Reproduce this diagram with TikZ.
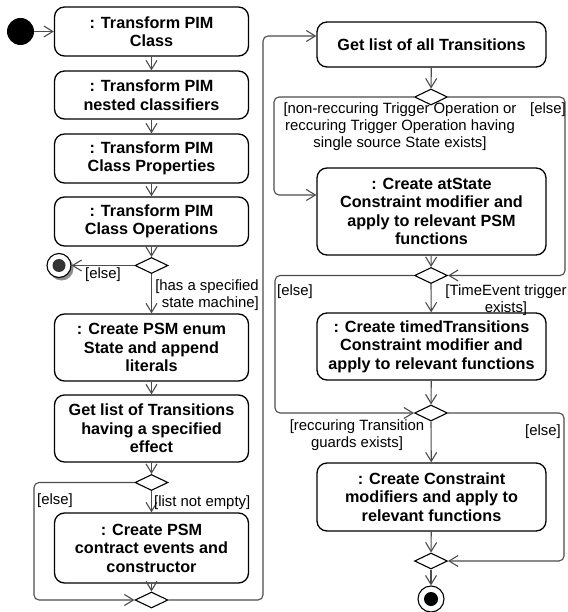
\documentclass[tikz,border=0pt]{standalone}
\usepackage{fontspec}
\setmainfont{Liberation Sans}
\usetikzlibrary{arrows.meta,shapes.geometric,calc}

\begin{document}
\begin{tikzpicture}[x=1pt,y=-1pt,
  action/.style={draw=black,line width=1.3pt,rounded corners=10pt,align=center,
    font=\bfseries\fontsize{16.2}{18.5}\selectfont,inner sep=0pt},
  lbox/.style={action,minimum width=194pt},
  rbox/.style={action,minimum width=229pt},
  decision/.style={draw=black,diamond,line width=1.1pt,minimum width=33pt,
    minimum height=16pt,inner sep=0pt,aspect=2},
  flow/.style={draw=black!70,line width=1.1pt,rounded corners=5pt,
    -{Straight Barb[length=9pt,width=11pt]}},
  guard/.style={font=\fontsize{14.9}{17}\selectfont,inner sep=0pt},
]
\useasboundingbox (0,0) rectangle (567,612);

% ---- left column: actions
\node[lbox,minimum height=49pt] (b1) at (151.5,31.5) {: Transform PIM\\Class};
\node[lbox,minimum height=48pt] (b2) at (151.5,95) {: Transform PIM\\nested classifiers};
\node[lbox,minimum height=49pt] (b3) at (151.5,158.5) {: Transform PIM\\Class Properties};
\node[lbox,minimum height=49pt] (b4) at (151.5,221.5) {: Transform PIM\\Class Operations};
\node[lbox,minimum height=67pt] (b5) at (151.5,347.5) {: Create PSM enum\\State and append\\literals};
\node[lbox,minimum height=67pt] (b6) at (151.5,428.5) {Get list of Transitions\\having a specified\\effect};
\node[lbox,minimum height=70pt] (b7) at (151.5,548) {: Create PSM\\contract events and\\constructor};

% ---- right column: actions
\node[rbox,minimum height=45pt] (r1) at (431.5,44.5) {Get list of all Transitions};
\node[rbox,minimum height=87pt] (r2) at (431.5,211.5) {: Create atState\\Constraint modifier and\\apply to relevant PSM\\functions};
\node[rbox,minimum height=67pt] (r3) at (431.5,346.5) {: Create timedTransitions\\Constraint modifier and\\apply to relevant functions};
\node[rbox,minimum height=68pt] (r4) at (431.5,497) {: Create Constraint\\modifiers and apply to\\relevant functions};

% ---- decision / merge nodes
\node[decision] (d1) at (151.5,265.5) {};
\node[decision] (d2) at (151.5,482.5) {};
\node[decision] (d3) at (151.5,600) {};
\node[decision] (dr1) at (431,97) {};
\node[decision] (dr2) at (431,275.5) {};
\node[decision] (dr3) at (431,413) {};
\node[decision] (dr4) at (431,561) {};

% ---- initial and final nodes
\node[circle,fill=black,minimum size=27pt,inner sep=0pt] (init) at (20.5,31.5) {};
\fill[black!45] (61.5,268.5) circle (12pt);
\node[circle,draw=black,fill=white,line width=1.1pt,minimum size=24pt,inner sep=0pt] (fin1) at (59,265.5) {};
\fill[black!80] (fin1.center) circle (6.5pt);
\node[circle,draw=black,fill=white,line width=1.1pt,minimum size=26pt,inner sep=0pt] (fin2) at (431,599) {};
\fill[black] (fin2.center) circle (7pt);

% ---- bend points of the loops
\coordinate (lp) at (34,540);
\coordinate (up) at (263,36);
\coordinate (a1) at (274,195);
\coordinate (a2) at (565,180);
\coordinate (a3) at (275,340);
\coordinate (a4) at (564,490);

% ---- control flows
\draw[flow] (init) -- (b1);
\draw[flow] (b1) -- (b2);
\draw[flow] (b2) -- (b3);
\draw[flow] (b3) -- (b4);
\draw[flow] (b4) -- (d1);
\draw[flow] (d1.west) -- (fin1);
\draw[flow] (d1.south) -- (b5);
\draw[flow] (b5) -- (b6);
\draw[flow] (b6) -- (d2);
\draw[flow] (d2.south) -- (b7);
\draw[flow] (d2.west) -| (lp) |- (d3.west);
\draw[flow] (b7) -- (d3);
\draw[flow] (d3.east) -| (up) -- (up -| r1.west);

\draw[flow] (r1) -- (dr1);
\draw[flow] (dr1.west) -| (a1) -- (a1 -| r2.west);
\draw[flow] (dr1.east) -| (a2) |- (dr2.east);
\draw[flow] (r2) -- (dr2);
\draw[flow] (dr2.south) -- (r3);
\draw[flow] (dr2.west) -| (a3) |- (dr3.west);
\draw[flow] (r3) -- (dr3);
\draw[flow] (dr3.south) -- (r4);
\draw[flow] (dr3.east) -| (a4) |- (dr4.east);
\draw[flow] (r4) -- (dr4);
\draw[flow] (dr4.south) -- (fin2);

% ---- guards
\node[guard,anchor=west] (g1) at (85,275) {[else]};
\node[guard,align=right,anchor=east] (g2) at (259,295.5) {[has a specified\\state machine]};
\node[guard,anchor=west] (g3) at (37,501) {[else]};
\node[guard,anchor=west] (g4) at (154,503) {[list not empty]};
\node[guard,align=center] (g5) at (400,127) {[non-reccuring Trigger Operation or\\reccuring Trigger Operation having\\single source State exists]};
\node[guard,anchor=east] (g6) at (566,110) {[else]};
\node[guard,anchor=west] (g7) at (277,292) {[else]};
\node[guard,align=center] (g8) at (506,300) {[TimeEvent trigger\\exists]};
\node[guard,align=center] (g9) at (357,435.5) {[reccuring Transition\\guards exists]};
\node[guard,anchor=east] (g10) at (561,432) {[else]};
\end{tikzpicture}
\end{document}
